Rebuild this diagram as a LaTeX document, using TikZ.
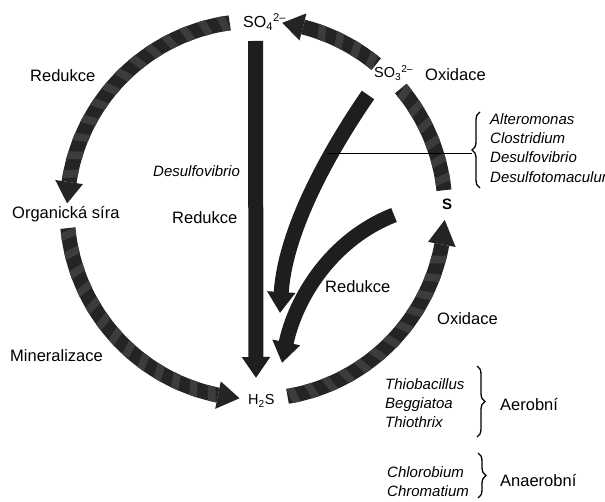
\documentclass[tikz,border=0pt]{standalone}
\usepackage{fontspec}
\setmainfont{Liberation Sans}
\usetikzlibrary{calc,arrows.meta,decorations.pathreplacing,decorations.markings}
\definecolor{banddark}{RGB}{36,36,36}
\definecolor{bandlight}{RGB}{60,60,60}
\definecolor{solidarrow}{RGB}{30,30,30}
\newcommand\cyclearc[4]{% name, start, base, tip
  \coordinate (#1s) at ($(c)+(#2:189)$);
  \coordinate (#1t) at ($(c)+(#4:189)$);
  \draw[band] (#1s) arc[start angle=#2,end angle=#3,radius=189];
  \fill[head] ($(c)+(#3:203)$) -- ($(c)+(#3:175)$) -- (#1t) -- cycle;}
\begin{document}
\begin{tikzpicture}[x=1pt,y=-1pt,
  lbl/.style={inner sep=0pt,anchor=base west,font=\fontsize{16.5}{19}\selectfont},
  chem/.style={inner sep=0pt,anchor=base west,font=\fontsize{14.5}{17}\selectfont},
  spec/.style={inner sep=0pt,anchor=base west,font=\fontsize{15}{18}\selectfont\itshape},
  band/.style={line width=15pt,draw=banddark,
    postaction={decorate,decoration={markings,
      mark=between positions 6pt and -6pt step 19pt with
        {\fill[bandlight] (-6,-7.5) -- (2,-7.5) -- (6,7.5) -- (-2,7.5) -- cycle;}}}},
  head/.style={fill=banddark},
  solidarr/.style={line width=15pt,draw=solidarrow,-{Triangle[width=27pt,length=21pt,fill=solidarrow]}},
  bracestyle/.style={decorate,decoration={brace,amplitude=8pt},line width=1.3pt},
]
\useasboundingbox (0,0) rectangle (605,502);
\fill[white] (0,0) rectangle (605,502);
\coordinate (c) at (256,210);

% ring arcs
\cyclearc{red}{-98}{-171.5}{-178}
\cyclearc{min}{174.5}{101.6}{95}
\cyclearc{oxb}{80.4}{10.5}{3}
\cyclearc{sos}{-50.5}{-75.6}{-82}
\coordinate (sts) at ($(c)+(-40:189)$);
\draw[band] (sts) arc[start angle=-40,end angle=-6,radius=189];

% straight and inner arrows
\coordinate (vs) at (255.5,41);
\coordinate (vt) at (256,378);
\draw[solidarr] (vs) -- (vt);
\coordinate (i1s) at (368,95);
\coordinate (i1t) at (280,313);
\draw[solidarr] (i1s) .. controls (330,150) and (285,230) .. (i1t);
\coordinate (i2s) at (394,215);
\coordinate (i2t) at (282,363);
\draw[solidarr] (i2s) .. controls (330,240) and (295,300) .. (i2t);

% labels
\node[inner sep=0pt,anchor=base west,font=\fontsize{16}{19}\selectfont] (so4) at (243,28) {SO\textsubscript{4}\textsuperscript{2–}};
\node[chem] (so3) at (374,78) {SO\textsubscript{3}\textsuperscript{2–}};
\node[chem,font=\fontsize{15}{17}\selectfont\bfseries] (s) at (442,210) {S};
\node[chem] (h2s) at (248,405) {H\textsubscript{2}S};

\node[lbl] (l1) at (30,82) {Redukce};
\node[lbl] (l2) at (425,81) {Oxidace};
\node[lbl] (l3) at (12,219) {Organická síra};
\node[lbl] (l4) at (10,362) {Mineralizace};
\node[spec] (l5) at (153,177) {Desulfovibrio};
\node[lbl] (l6) at (172,224) {Redukce};
\node[lbl] (l7) at (325,293) {Redukce};
\node[lbl] (l8) at (437,325) {Oxidace};

% top right species
\node[spec] (sp1) at (490,125) {Alteromonas};
\node[spec] (sp2) at (490,144) {Clostridium};
\node[spec] (sp3) at (490,163) {Desulfovibrio};
\node[spec] (sp4) at (490,183) {Desulfotomaculum};
\coordinate (br1a) at (480,188);
\coordinate (br1b) at (480,112);
\draw[bracestyle] (br1a) -- (br1b);
\coordinate (lineA) at (327,153);
\coordinate (lineB) at (472,153);
\draw[line width=0.9pt] (lineA) -- (lineB);

% bottom species
\node[spec] (t1) at (385,390) {Thiobacillus};
\node[spec] (t2) at (385,409) {Beggiatoa};
\node[spec] (t3) at (385,428) {Thiothrix};
\coordinate (br2a) at (477,366);
\coordinate (br2b) at (477,437);
\draw[bracestyle] (br2a) -- (br2b);
\node[lbl] (aer) at (500,410) {Aerobní};

\node[spec] (c1) at (387,477) {Chlorobium};
\node[spec] (c2) at (387,496) {Chromatium};
\coordinate (br3a) at (478,453);
\coordinate (br3b) at (478,498);
\draw[bracestyle] (br3a) -- (br3b);
\node[lbl] (ana) at (500,486) {Anaerobní};
\end{tikzpicture}
\end{document}
